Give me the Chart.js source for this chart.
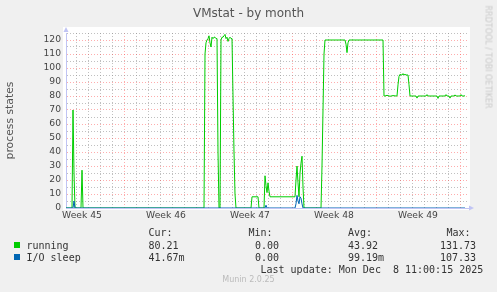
<!DOCTYPE html>
<html>
<head>
<meta charset="utf-8">
<script src="https://cdn.jsdelivr.net/npm/chart.js@4/dist/chart.umd.min.js"></script>
<style>
  body { margin: 0; background: #f0f0f0; }
  #wrap { position: relative; width: 497px; height: 292px; overflow: hidden; }
  #chart { position: absolute; left: 0; top: 0; }
  .t { position: absolute; white-space: pre; line-height: 12px; }
  .mono { font-family: 'DejaVu Sans Mono', monospace; font-size: 10px; color: #333; }
  .sq { position: absolute; width: 6px; height: 6px; }
</style>
</head>
<body>
<div id="wrap">
  <canvas id="chart" width="497" height="292"></canvas>
  <div class="t" style="left:0;width:497px;top:6px;text-align:center;font:12px 'DejaVu Sans';color:#555">VMstat - by month</div>
  <div class="t" style="left:438px;top:51px;width:100px;text-align:center;font:8px 'DejaVu Sans';color:#cacaca;transform:rotate(90deg)">RRDTOOL / TOBI OETIKER</div>

  <div class="t mono" style="left:148.5px;top:227px">Cur:</div>
  <div class="t mono" style="left:248.5px;top:227px">Min:</div>
  <div class="t mono" style="left:348px;top:227px">Avg:</div>
  <div class="t mono" style="left:446.5px;top:227px">Max:</div>

  <div class="sq" style="left:14px;top:242px;background:#00cc00"></div>
  <div class="t mono" style="left:26.5px;top:239.5px">running</div>
  <div class="t mono" style="left:148.5px;top:239.5px">80.21</div>
  <div class="t mono" style="left:255px;top:239.5px">0.00</div>
  <div class="t mono" style="left:348px;top:239.5px">43.92</div>
  <div class="t mono" style="left:440px;top:239.5px">131.73</div>

  <div class="sq" style="left:14px;top:254px;background:#0066b3"></div>
  <div class="t mono" style="left:26.5px;top:251.5px">I/O sleep</div>
  <div class="t mono" style="left:148.5px;top:251.5px">41.67m</div>
  <div class="t mono" style="left:255px;top:251.5px">0.00</div>
  <div class="t mono" style="left:348px;top:251.5px">99.19m</div>
  <div class="t mono" style="left:440px;top:251.5px">107.33</div>

  <div class="t mono" style="left:260.5px;top:263.5px">Last update: Mon Dec  8 11:00:15 2025</div>
  <div class="t" style="left:0;width:497px;top:275px;text-align:center;font:8px 'DejaVu Sans';color:#bbb">Munin 2.0.25</div>
</div>
<script>
// hours counted from Mon Nov 3 2025 00:00
var weekHours = [84, 252, 420, 588, 756]
var weekLabels = ['Week 45', 'Week 46', 'Week 47', 'Week 48', 'Week 49']

var runningHours = [52, 64, 66, 68, 70, 82, 84, 86,
  328, 330, 332, 334, 336, 338, 340, 342, 344, 346, 348, 350, 352, 354, 356, 358,
  360, 362, 364, 366, 368, 370, 372, 374, 376, 378, 380, 382, 384, 386, 388, 390, 392,
  422, 424, 436, 438, 448, 450, 452, 454, 456, 458, 460, 510,
  512, 514, 516, 518, 520, 522, 524, 526, 528,
  562, 564, 566, 568, 570, 610, 612, 614, 616, 618, 686, 688,
  690, 694, 700, 706, 712, 714, 716, 718, 720, 722, 724, 726, 728, 730, 732, 734, 736, 738, 740,
  752, 754, 756, 772, 774, 776, 794, 796, 798, 810, 812, 814, 818, 820, 822, 828, 830, 832,
  840, 842, 844, 848, 850]
var runningValues = [0, 0, 70, 25, 0, 0, 27, 0,
  0, 110, 118, 120, 121, 123, 118, 115, 122, 121, 122, 122, 121, 121, 40, 0,
  0, 120, 122, 122, 123, 124, 121, 122, 119, 121, 122, 121, 121, 80, 40, 10, 0,
  0, 8, 8, 0, 0, 23, 16, 11, 18, 12, 8, 8,
  20, 30, 18, 8, 25, 32, 37, 15, 0,
  0, 30, 70, 110, 120, 120, 117, 111, 118, 120, 120, 80,
  80, 80.5, 79.8, 80.3, 80, 80, 88, 94, 95.5, 95, 95, 96, 95, 95.5, 95, 95, 95, 88, 80,
  80, 78.5, 80, 80, 81, 80, 80, 78.3, 80, 80, 81, 80, 80, 78.5, 80, 80, 80.8, 80,
  80, 81, 80, 80, 80.21]

var sleepHours = [52, 66, 68, 70, 450, 452, 454, 510, 512, 514, 516, 518, 520, 522, 524, 526, 850]
var sleepValues = [0, 0, 5, 0, 0, 2, 0, 0, 3, 9, 5, 3, 8, 7, 3, 0, 0]

function pts(xs, ys) {
  return xs.map(function (x, i) { return { x: x, y: ys[i] } })
}

var red = 'rgba(255, 60, 60, 0.42)'
var gray = 'rgba(140, 140, 140, 0.55)'
var axisColor = '#c0c4f4'

Chart.defaults.font.family = "'DejaVu Sans'"

var frame = {
  id: 'frame',
  beforeDraw: function (chart) {
    var c = chart.ctx
    c.save()
    c.fillStyle = '#ffffff'
    c.fillRect(63, 27, 407, 183)
    c.restore()
  },
  afterDraw: function (chart) {
    var c = chart.ctx
    var a = chart.chartArea
    c.save()
    c.fillStyle = axisColor
    c.beginPath()
    c.moveTo(a.left - 2.5, a.top - 1)
    c.lineTo(a.left + 2.5, a.top - 1)
    c.lineTo(a.left, a.top - 6)
    c.fill()
    c.beginPath()
    c.moveTo(a.right + 1, a.bottom - 2.5)
    c.lineTo(a.right + 1, a.bottom + 2.5)
    c.lineTo(a.right + 6, a.bottom)
    c.fill()
    c.restore()
  }
}

new Chart(document.getElementById('chart'), {
  type: 'line',
  data: {
    datasets: [{
      label: 'running',
      data: pts(runningHours, runningValues),
      borderColor: '#00cc00',
      borderWidth: 1,
      pointRadius: 0,
      order: 2
    }, {
      label: 'I/O sleep',
      data: pts(sleepHours, sleepValues),
      borderColor: '#0066b3',
      borderWidth: 1,
      pointRadius: 0,
      order: 1
    }]
  },
  options: {
    responsive: false,
    animation: false,
    layout: { padding: { left: 0, right: 29, top: 33, bottom: 64 } },
    plugins: { legend: { display: false }, title: { display: false }, tooltip: { enabled: false } },
    scales: {
      x: {
        type: 'linear',
        min: 52,
        max: 856,
        afterBuildTicks: function (axis) {
          var t = []
          for (var h = 72; h <= 840; h += 24) t.push({ value: h })
          weekHours.forEach(function (h) { t.push({ value: h }) })
          axis.ticks = t
        },
        afterFit: function (axis) { axis.height = 20 },
        ticks: {
          autoSkip: false,
          maxRotation: 0,
          padding: 2,
          color: '#444',
          font: { size: 9.2 },
          callback: function (v) {
            var i = weekHours.indexOf(v)
            return i >= 0 ? weekLabels[i] : ''
          }
        },
        grid: {
          drawTicks: false,
          color: function (ctx) {
            var v = ctx.tick ? ctx.tick.value : 0
            if (weekHours.indexOf(v) >= 0) return 'rgba(0,0,0,0)'
            return v % 168 === 0 ? red : gray
          }
        },
        border: { color: axisColor, dash: [1, 2] }
      },
      y: {
        min: 0,
        max: 125,
        afterFit: function (axis) { axis.width = 66 },
        title: {
          display: true,
          text: 'process states',
          color: '#555',
          font: { size: 10.8 },
          padding: { top: 4, bottom: 0 }
        },
        ticks: {
          stepSize: 5,
          autoSkip: false,
          padding: 5,
          color: '#444',
          font: { size: 9.2 },
          callback: function (v) { return v % 10 === 0 ? v : '' }
        },
        grid: {
          drawTicks: false,
          color: function (ctx) {
            var v = ctx.tick ? ctx.tick.value : 0
            return v % 10 === 0 ? red : gray
          }
        },
        border: { color: axisColor, dash: [1, 2] }
      }
    }
  },
  plugins: [frame]
})
</script>
</body>
</html>
